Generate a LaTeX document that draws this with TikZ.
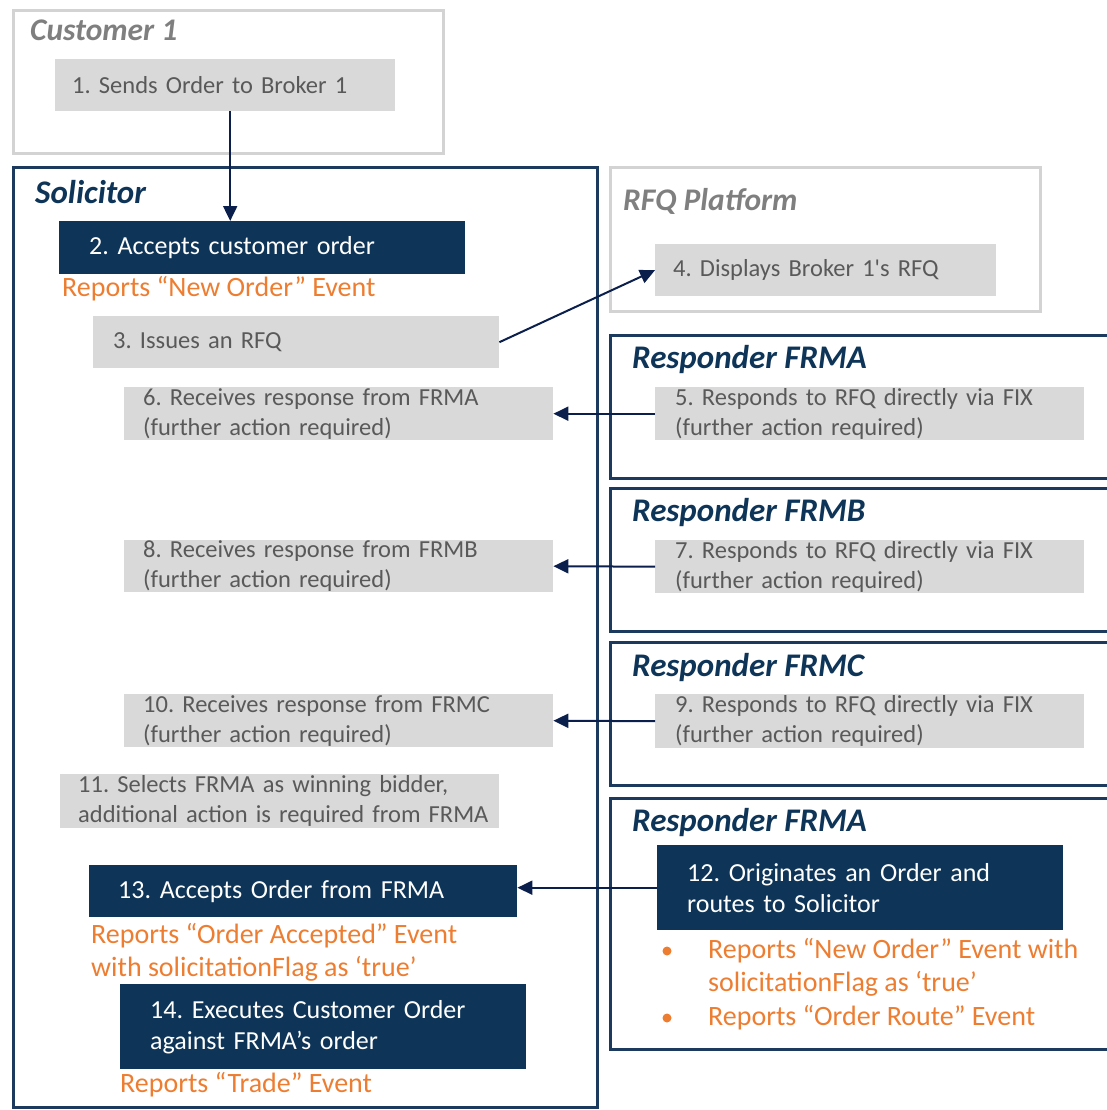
\documentclass[tikz,border=0pt]{standalone}
\usepackage{fontspec}
\setmainfont{Carlito}
\frenchspacing
\usetikzlibrary{arrows.meta}
\definecolor{navy}{HTML}{0E3558}
\definecolor{navyline}{HTML}{1B3A5E}
\definecolor{arrowc}{HTML}{0B1F4D}
\definecolor{boxgray}{HTML}{D9D9D9}
\definecolor{txtgray}{HTML}{595959}
\definecolor{ttlgray}{HTML}{7F7F7F}
\definecolor{lightline}{HTML}{D3D3D3}
\definecolor{orng}{HTML}{ED7D31}
\newcommand\ind[1]{\hspace*{#1pt}}
\begin{document}
\frenchspacing
\begin{tikzpicture}[x=1pt,y=-1pt,
  stepbase/.style={anchor=north west, inner sep=0pt, align=left},
  graybox/.style={stepbase, fill=boxgray, text=txtgray, font=\fontsize{24.5}{30}\selectfont\frenchspacing},
  navybox/.style={stepbase, fill=navy, text=white, font=\fontsize{26}{31}\selectfont\frenchspacing},
  ttl/.style={anchor=west, inner sep=0pt},
  grayttl/.style={ttl, text=ttlgray, font=\fontsize{31.5}{36}\selectfont\bfseries\itshape},
  navyttl/.style={ttl, text=navy, font=\fontsize{33}{38}\selectfont\bfseries\itshape},
  orangetxt/.style={anchor=west, inner sep=0pt, align=left, text=orng, font=\fontsize{28}{33}\selectfont\frenchspacing},
  lightframe/.style={draw=lightline, line width=3pt},
  navyframe/.style={draw=navyline, line width=3pt},
  flow/.style={draw=arrowc, line width=2pt, -{Triangle[length=15pt,width=14pt]}},
  dot/.style={circle, fill=orng, inner sep=0pt, minimum size=9pt}
]
\useasboundingbox (0,0) rectangle (1107,1110);

% containers
\draw[lightframe] (13,11) rectangle (443,154);
\draw[navyframe] (13,168) rectangle (597,1107);
\draw[lightframe] (610,168) rectangle (1040,311);
\draw[navyframe] (1110,335) -- (610,335) -- (610,478) -- (1110,478);
\draw[navyframe] (1110,488) -- (610,488) -- (610,631) -- (1110,631);
\draw[navyframe] (1110,642) -- (610,642) -- (610,785) -- (1110,785);
\draw[navyframe] (1110,798) -- (610,798) -- (610,1049) -- (1110,1049);

% titles
\node[grayttl] (tcust) at (30,30) {Customer 1};
\node[navyttl] (tsol) at (35,192) {Solicitor};
\node[grayttl] (trfq) at (623,201) {RFQ Platform};
\node[navyttl] (tra) at (632,360) {Responder FRMA};
\node[navyttl] (trb) at (632,513) {Responder FRMB};
\node[navyttl] (trc) at (632,668) {Responder FRMC};
\node[navyttl] (tra2) at (632,823) {Responder FRMA};

% steps
\node[graybox, text width=340pt, minimum height=52pt] (n1) at (55,59) {\ind{17}1. Sends Order to Broker 1};
\node[navybox, text width=406pt, minimum height=53pt] (n2) at (59,221) {\ind{30}2. Accepts customer order};
\node[graybox, text width=406pt, minimum height=52pt] (n3) at (93,316) {\ind{20}3. Issues an RFQ};
\node[graybox, text width=341pt, minimum height=52pt] (n4) at (655,244) {\ind{18}4. Displays Broker 1\textquotesingle s RFQ};
\node[graybox, text width=429pt, minimum height=53pt] (n5) at (655,387) {\ind{20}5. Responds to RFQ directly via FIX\\\ind{20}(further action required)};
\node[graybox, text width=429pt, minimum height=53pt] (n6) at (124,387) {\ind{19}6. Receives response from FRMA\\\ind{19}(further action required)};
\node[graybox, text width=429pt, minimum height=53pt] (n7) at (655,540) {\ind{20}7. Responds to RFQ directly via FIX\\\ind{20}(further action required)};
\node[graybox, text width=429pt, minimum height=52pt] (n8) at (124,540) {\ind{19}8. Receives response from FRMB\\\ind{19}(further action required)};
\node[graybox, text width=429pt, minimum height=54pt] (n9) at (655,694) {\ind{20}9. Responds to RFQ directly via FIX\\\ind{20}(further action required)};
\node[graybox, text width=429pt, minimum height=53pt] (n10) at (124,694) {\ind{19}10. Receives response from FRMC\\\ind{19}(further action required)};
\node[graybox, text width=439pt, minimum height=54pt] (n11) at (60,774) {\ind{18}11. Selects FRMA as winning bidder,\\\ind{18}additional action is required from FRMA};
\node[navybox, text width=406pt, minimum height=85pt] (n12) at (657,845) {\ind{30}12. Originates an Order and\\\ind{30}routes to Solicitor};
\node[navybox, text width=428pt, minimum height=52pt] (n13) at (89,865) {\ind{29}13. Accepts Order from FRMA};
\node[navybox, text width=406pt, minimum height=85pt] (n14) at (120,984) {\ind{30}14. Executes Customer Order\\\ind{30}against FRMA’s order};

% orange notes
\node[orangetxt] (o2) at (62,289) {Reports “New Order” Event};
\node[orangetxt] (o13) at (91,952) {Reports “Order Accepted” Event\\with solicitationFlag as ‘true’};
\node[orangetxt] (o14) at (120,1085) {Reports “Trade” Event};
\node[dot] (d1) at (667,951) {};
\node[dot] (d2) at (667,1018) {};
\node[orangetxt] (o12a) at (708,967) {Reports “New Order” Event with\\solicitationFlag as ‘true’};
\node[orangetxt] (o12b) at (708,1018) {Reports “Order Route” Event};

% connectors
\draw[flow] ([xshift=5pt]n1.south) -- ([xshift=5pt]n1.south |- n2.north);
\draw[flow] (n3.east) -- (n4.west);
\draw[flow] (n5.west) -- (n6.east);
\draw[flow] (n7.west) -- (n8.east);
\draw[flow] (n9.west) -- (n10.east);
\draw[flow] (n12.west) -- (n12.west -| n13.east);
\end{tikzpicture}
\end{document}
